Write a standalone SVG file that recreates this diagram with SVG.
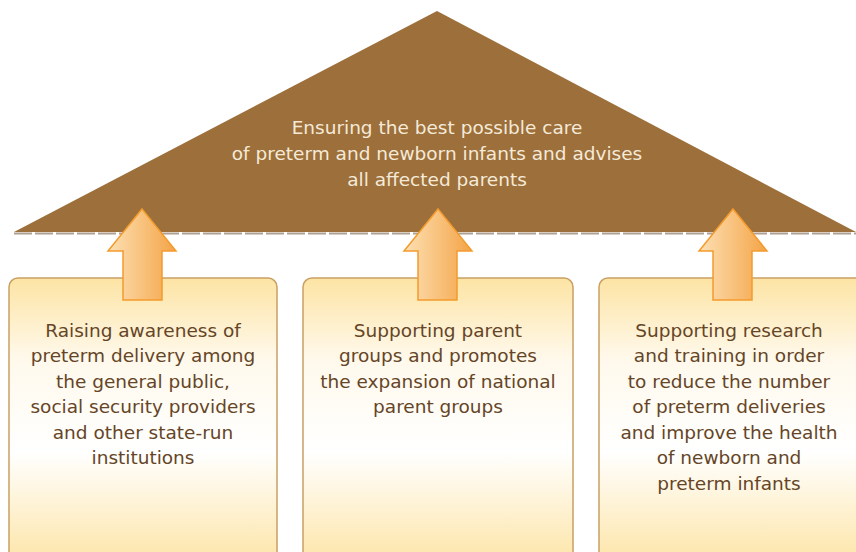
<svg xmlns="http://www.w3.org/2000/svg" width="856" height="552" viewBox="0 0 856 552">
<defs>
<linearGradient id="boxg" x1="0" y1="0" x2="0" y2="1">
<stop offset="0" stop-color="#fde4a4"/>
<stop offset="0.28" stop-color="#fff9ec"/>
<stop offset="0.6" stop-color="#ffffff"/>
<stop offset="1" stop-color="#fde4a4"/>
</linearGradient>
<linearGradient id="arrg" x1="0" y1="0" x2="1" y2="0">
<stop offset="0" stop-color="#fde0b4"/>
<stop offset="1" stop-color="#f4a447"/>
</linearGradient>
<style>
.box{fill:url(#boxg);stroke:#c9a063;stroke-width:1.5}
.arrow{fill:url(#arrg);stroke:#f39b2c;stroke-width:1.5;stroke-linejoin:miter}
.bt{font-family:"DejaVu Sans",Verdana,sans-serif;font-size:18.5px;fill:#654526;text-anchor:middle}
.rt{font-family:"DejaVu Sans",Verdana,sans-serif;font-size:18.5px;fill:#f5ead8;text-anchor:middle}
</style>
</defs>
<rect width="856" height="552" fill="#ffffff"/>
<g id="roof">
<polygon points="14,232 437,11 856,232" fill="#9c6f3b"/>
<line x1="14" y1="233.5" x2="856" y2="233.5" stroke="#b0a090" stroke-width="2" stroke-dasharray="18,3"/>
<text class="rt" x="437" y="133.5">Ensuring the best possible care</text>
<text class="rt" x="437" y="159.5">of preterm and newborn infants and advises</text>
<text class="rt" x="437" y="185.5">all affected parents</text>
</g>
<g id="box1">
<rect class="box" x="9" y="278" width="268" height="290" rx="9"/>
<text class="bt" x="143" y="336.5">Raising awareness of</text>
<text class="bt" x="143" y="362">preterm delivery among</text>
<text class="bt" x="143" y="387.5">the general public,</text>
<text class="bt" x="143" y="413">social security providers</text>
<text class="bt" x="143" y="438.5">and other state-run</text>
<text class="bt" x="143" y="464">institutions</text>
</g>
<g id="box2">
<rect class="box" x="303" y="278" width="270" height="290" rx="9"/>
<text class="bt" x="438" y="336.5">Supporting parent</text>
<text class="bt" x="438" y="362">groups and promotes</text>
<text class="bt" x="438" y="387.5">the expansion of national</text>
<text class="bt" x="438" y="413">parent groups</text>
</g>
<g id="box3">
<rect class="box" x="599" y="278" width="270" height="290" rx="9"/>
<text class="bt" x="729" y="336.5">Supporting research</text>
<text class="bt" x="729" y="362">and training in order</text>
<text class="bt" x="729" y="387.5">to reduce the number</text>
<text class="bt" x="729" y="413">of preterm deliveries</text>
<text class="bt" x="729" y="438.5">and improve the health</text>
<text class="bt" x="729" y="464">of newborn and</text>
<text class="bt" x="729" y="489.5">preterm infants</text>
</g>
<g id="connectors">
<polygon class="arrow" points="142,209 176,251 162,251 162,300 123,300 123,251 108,251"/>
<polygon class="arrow" points="438,209 472,251 457,251 457,300 418,300 418,251 404,251"/>
<polygon class="arrow" points="733,209 767,251 752,251 752,300 713,300 713,251 699,251"/>
</g>
</svg>
